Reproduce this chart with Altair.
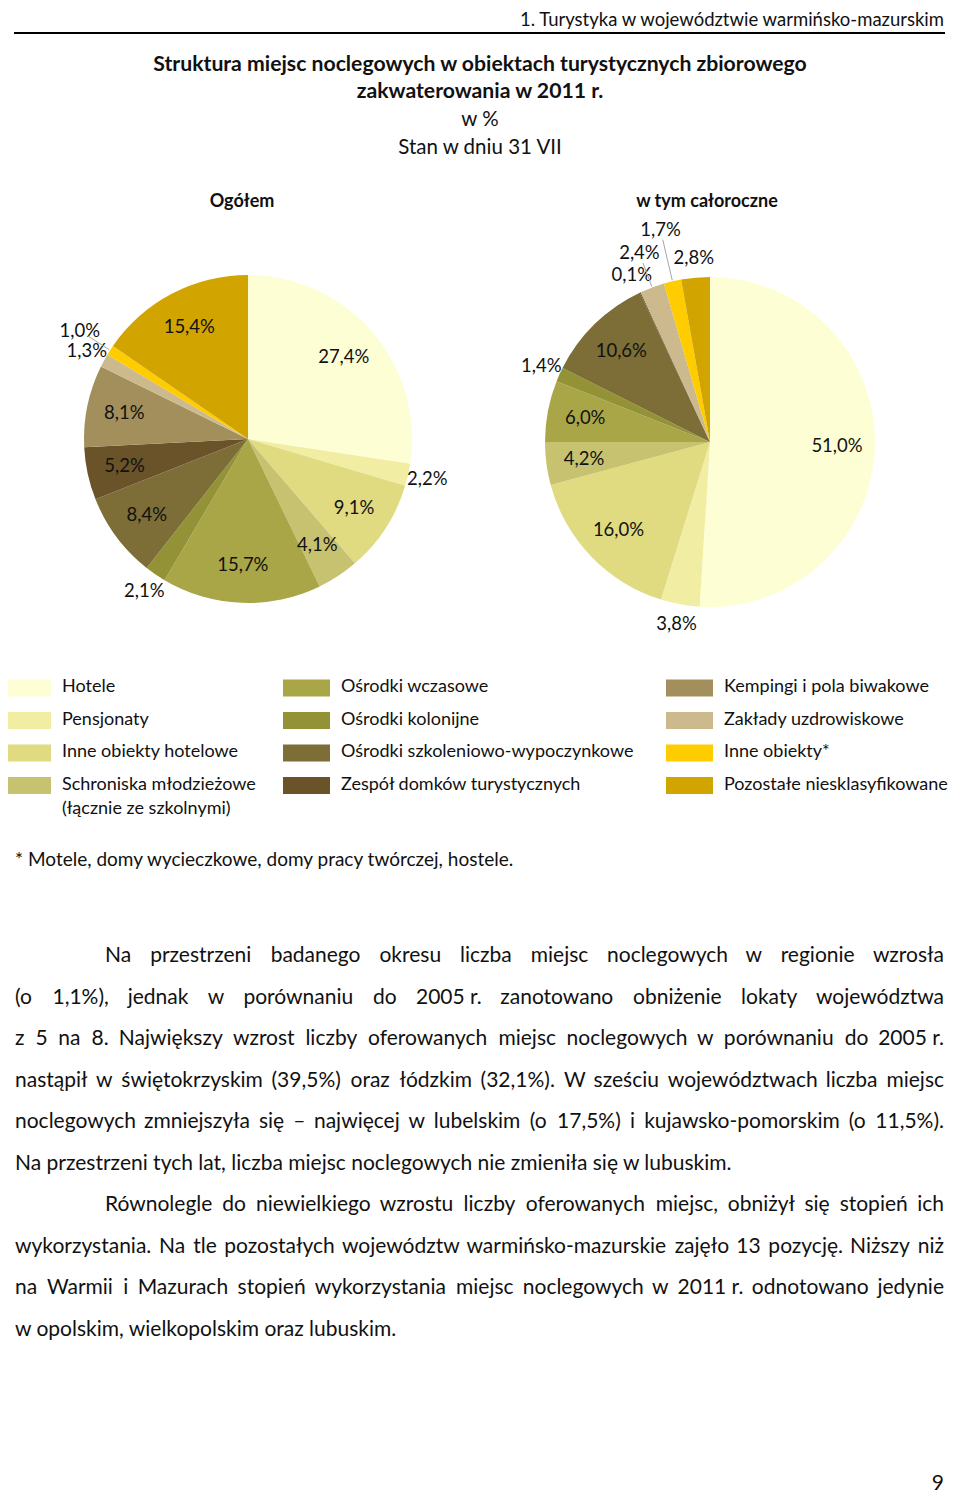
import altair as alt
import pandas as pd
import numpy as np

# ---------------- data ----------------
categories = [
    "Hotele", "Pensjonaty", "Inne obiekty hotelowe",
    "Schroniska młodzieżowe (łącznie ze szkolnymi)", "Ośrodki wczasowe",
    "Ośrodki kolonijne", "Ośrodki szkoleniowo-wypoczynkowe",
    "Zespół domków turystycznych", "Kempingi i pola biwakowe",
    "Zakłady uzdrowiskowe", "Inne obiekty", "Pozostałe niesklasyfikowane",
]
legend_labels = [
    "Hotele", "Pensjonaty", "Inne obiekty hotelowe",
    "Schroniska młodzieżowe\n(łącznie ze szkolnymi)", "Ośrodki wczasowe",
    "Ośrodki kolonijne", "Ośrodki szkoleniowo-wypoczynkowe",
    "Zespół domków turystycznych", "Kempingi i pola biwakowe",
    "Zakłady uzdrowiskowe", "Inne obiekty*", "Pozostałe niesklasyfikowane",
]
ogolem = [27.4, 2.2, 9.1, 4.1, 15.7, 2.1, 8.4, 5.2, 8.1, 1.3, 1.0, 15.4]
caloroczne = [51.0, 3.8, 16.0, 4.2, 6.0, 1.4, 10.6, 0.1, 0.0, 2.4, 1.7, 2.8]
colors = ["#FEFED5", "#F1EDA2", "#E0DB80", "#C7C26F", "#A9A647", "#939237",
          "#7C6E36", "#6A5229", "#A38F5B", "#CCBA8E", "#FFCC00", "#D2A400"]

header_text = "1. Turystyka w województwie warmińsko-mazurskim"
title_lines = ["Struktura miejsc noclegowych w obiektach turystycznych zbiorowego",
               "zakwaterowania w 2011 r."]
sub_lines = ["w %", "Stan w dniu 31 VII"]
pie_titles = ["Ogółem", "w tym całoroczne"]
footnote = "* Motele, domy wycieczkowe, domy pracy twórczej, hostele."
paragraphs = [
    ["Na przestrzeni badanego okresu liczba miejsc noclegowych w regionie wzrosła",
     "(o 1,1%), jednak w porównaniu do 2005\u00a0r. zanotowano obniżenie lokaty województwa",
     "z 5 na 8. Największy wzrost liczby oferowanych miejsc noclegowych w porównaniu do 2005\u00a0r.",
     "nastąpił w świętokrzyskim (39,5%) oraz łódzkim (32,1%). W sześciu województwach liczba miejsc",
     "noclegowych zmniejszyła się – najwięcej w lubelskim (o 17,5%) i kujawsko-pomorskim (o 11,5%).",
     "Na przestrzeni tych lat, liczba miejsc noclegowych nie zmieniła się w lubuskim."],
    ["Równolegle do niewielkiego wzrostu liczby oferowanych miejsc, obniżył się stopień ich",
     "wykorzystania. Na tle pozostałych województw warmińsko-mazurskie zajęło 13 pozycję. Niższy niż",
     "na Warmii i Mazurach stopień wykorzystania miejsc noclegowych w 2011\u00a0r. odnotowano jedynie",
     "w opolskim, wielkopolskim oraz lubuskim."],
]
page_number = "9"

# ---------------- layout ----------------
FONT = "Lato"
W, H = 944, 1486
OFF = 8  # page margin
cscale = alt.Scale(domain=categories, range=colors)


def P(v):  # page coordinate -> chart coordinate
    return v - OFF


def text_layer(rows, size, weight="normal", align="left", baseline="middle",
               color="#111111", lineBreak=None, lineHeight=None):
    kw = dict(font=FONT, fontSize=size, fontWeight=weight, align=align,
              baseline=baseline, color=color)
    if lineBreak:
        kw["lineBreak"] = lineBreak
    if lineHeight:
        kw["lineHeight"] = lineHeight
    df = pd.DataFrame(rows, columns=["x", "y", "t"])
    return alt.Chart(df).mark_text(**kw).encode(
        x=alt.X("x:Q", scale=None, axis=None),
        y=alt.Y("y:Q", scale=None, axis=None),
        text="t:N",
    )


# approximate glyph advance widths (em) for Lato, used for justification
_cw = {'a': .51, 'b': .56, 'c': .46, 'd': .56, 'e': .52, 'f': .32, 'g': .50,
       'h': .56, 'i': .24, 'j': .24, 'k': .50, 'l': .24, 'm': .84, 'n': .56,
       'o': .56, 'p': .56, 'q': .56, 'r': .37, 's': .43, 't': .35, 'u': .56,
       'v': .51, 'w': .77, 'x': .49, 'y': .51, 'z': .46, ',': .21, '.': .21,
       '(': .30, ')': .30, '%': .78, '-': .33, '–': .55, ' ': .19, '\u00a0': .19,
       'W': .98, 'N': .74, 'R': .62, 'M': .88, 'ą': .51, 'ę': .52, 'ł': .27,
       'ś': .43, 'ż': .46, 'ź': .46, 'ó': .56, 'ń': .56, 'ć': .46}


def tw(s):
    tot = 0
    for ch in s:
        if ch in _cw:
            tot += _cw[ch]
        elif ch.isdigit():
            tot += .58
        elif ch.isupper():
            tot += .66
        else:
            tot += .52
    return tot


layers = []

# header + rule
layers.append(text_layer([(P(944), P(11), header_text)], 18.5, align="right",
                         baseline="top"))
layers.append(alt.Chart(pd.DataFrame({"a": [0]})).mark_rule(
    color="#000000", strokeWidth=2).encode(
    x=alt.value(P(14)), x2=alt.value(P(945)), y=alt.value(P(33))))

# titles
layers.append(text_layer([(P(480), P(65), title_lines[0]),
                          (P(480), P(92), title_lines[1])], 21.2, weight="bold",
                         align="center"))
layers.append(text_layer([(P(480), P(120), sub_lines[0]),
                          (P(480), P(148), sub_lines[1])], 20.5, align="center"))
layers.append(text_layer([(P(242), P(202), pie_titles[0]),
                          (P(707), P(202), pie_titles[1])], 18, weight="bold",
                         align="center"))


# pies
def pie_layers(vals, cx, cy, R, fs=18.5):
    n = len(vals)
    v = np.array(vals, dtype=float)
    total = float(v.sum())
    df = pd.DataFrame({"cat": categories, "value": v, "order": np.arange(n)})
    df["label"] = [f"{x:.1f}".replace(".", ",") + "%" for x in v]
    df["midv"] = np.cumsum(v) - v / 2          # mid-point of each slice, in data units
    mid = df["midv"].to_numpy() / total * 2 * np.pi
    inside = v >= 4
    lr, placed, leaders = [], [], []
    for i in range(n):
        if v[i] <= 0:
            lr.append(np.nan)
            continue
        r0 = 0.77 * R if inside[i] else 1.12 * R
        rr = r0
        w = len(df.label[i]) * 0.52 * fs
        h = fs
        while True:
            x = cx + rr * np.sin(mid[i])
            y = cy - rr * np.cos(mid[i])
            if any(abs(x - px) < (w + pw) / 2 and abs(y - py) < (h + ph) / 2
                   for px, py, pw, ph in placed):
                rr += 0.05 * R
            else:
                break
        placed.append((x, y, w, h))
        lr.append(rr)
        if rr > r0 + 1:
            a = mid[i]
            leaders.append(dict(x=cx + (R + 1) * np.sin(a), y=cy - (R + 1) * np.cos(a),
                                x2=cx + (rr - 10) * np.sin(a), y2=cy - (rr - 10) * np.cos(a)))
    df["lr"] = lr
    arc = alt.Chart(df).mark_arc(outerRadius=R).encode(
        theta=alt.Theta("value:Q", stack=True),
        color=alt.Color("cat:N", scale=cscale, legend=None),
        order=alt.Order("order:Q"),
        x=alt.value(cx), y=alt.value(cy),
    )
    txt = alt.Chart(df[df.value > 0]).mark_text(
        font=FONT, fontSize=fs, color="#111111", align="center", baseline="middle"
    ).encode(
        theta=alt.Theta("midv:Q", stack=False,
                        scale=alt.Scale(domain=[0, total], range=[0, 2 * np.pi])),
        radius=alt.Radius("lr:Q", scale=None, stack=False),
        text="label:N",
        x=alt.value(cx), y=alt.value(cy),
    )
    out = [arc, txt]
    if leaders:
        out.append(alt.Chart(pd.DataFrame(leaders)).mark_rule(
            color="#A6A6A6", strokeWidth=1).encode(
            x=alt.X("x:Q", scale=None, axis=None), y=alt.Y("y:Q", scale=None, axis=None),
            x2="x2:Q", y2="y2:Q"))
    return out


layers += pie_layers(ogolem, P(248), P(439), 164)
layers += pie_layers(caloroczne, P(710), P(442), 165)

# custom legend (4 rows x 3 columns, column-major)
col_x = [P(4), P(283), P(666)]
sw_w, sw_h = 47, 17
leg_rows, leg_txt = [], []
for i, (c, lab) in enumerate(zip(categories, legend_labels)):
    col, row = i // 4, i % 4
    yc = P(688) + row * 32.5
    leg_rows.append(dict(cat=c, x=col_x[col], x2=col_x[col] + sw_w,
                         y=yc - sw_h / 2, y2=yc + sw_h / 2))
    leg_txt.append((col_x[col] + sw_w + 11, yc - 10, lab))
layers.append(alt.Chart(pd.DataFrame(leg_rows)).mark_rect().encode(
    x=alt.X("x:Q", scale=None, axis=None), x2="x2:Q",
    y=alt.Y("y:Q", scale=None, axis=None), y2="y2:Q",
    color=alt.Color("cat:N", scale=cscale, legend=None)))
layers.append(text_layer(leg_txt, 18, baseline="top", lineBreak="\n",
                         lineHeight=24))

# footnote
layers.append(text_layer([(P(15), P(860), footnote)], 19))

# justified paragraphs
BFS = 21
left_x, indent_x, right_x = P(15), P(105), P(944)
y = P(956)
lrows, rrows = [], []
for para in paragraphs:
    for k, line in enumerate(para):
        start = indent_x if k == 0 else left_x
        if k == len(para) - 1:
            lrows.append((start, y, line))
        else:
            words = line.split(" ")
            widths = [tw(wd) * BFS for wd in words]
            gap = (right_x - start - sum(widths)) / (len(words) - 1)
            x = start
            for wd, wdt in zip(words[:-1], widths[:-1]):
                lrows.append((x, y, wd))
                x += wdt + gap
            rrows.append((right_x, y, words[-1]))
        y += 41.5
layers.append(text_layer(lrows, BFS))
layers.append(text_layer(rrows, BFS, align="right"))

# page number
layers.append(text_layer([(P(944), P(1484), page_number)], 21, align="right"))

chart = alt.layer(*layers).resolve_scale(theta="independent").properties(
    width=W, height=H, padding=0, autosize=alt.AutoSizeParams(type="none"),
    background="white",
).configure_view(stroke=None)

chart.save("out.html", embed_options={"renderer": "svg", "actions": False})
